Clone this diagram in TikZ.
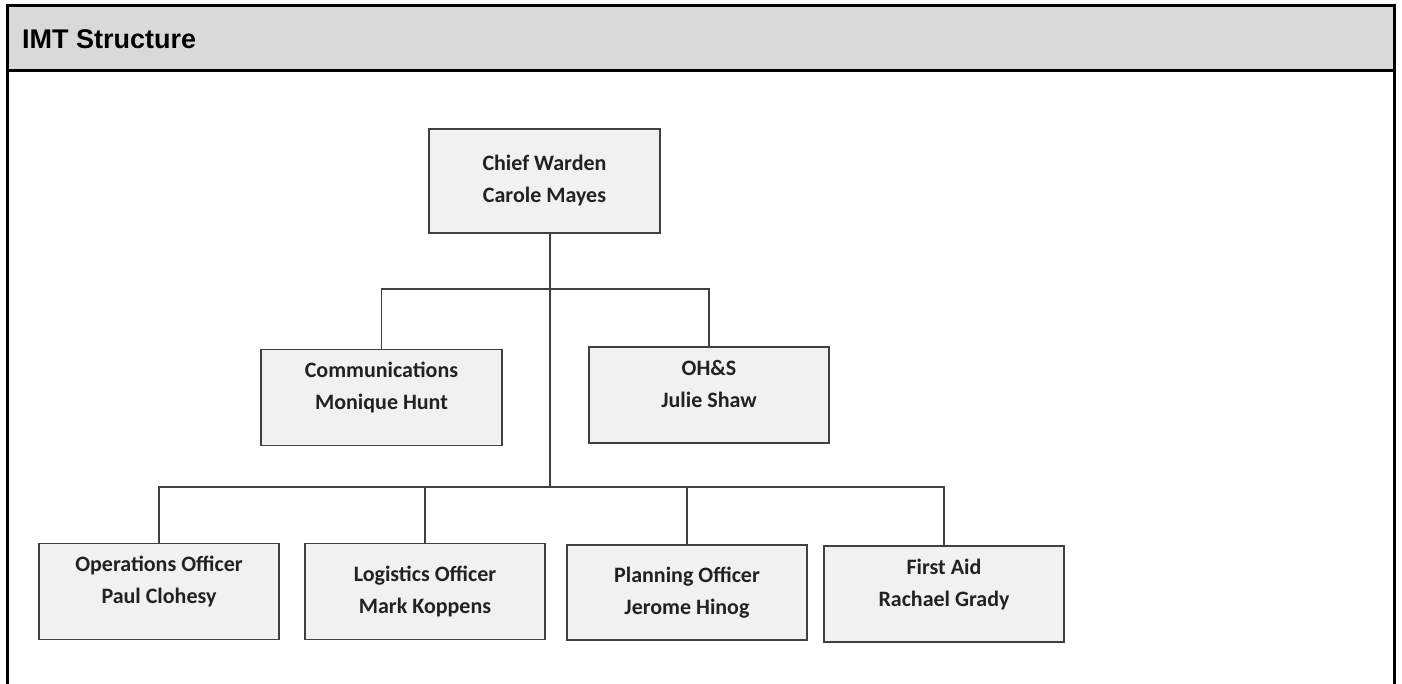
\documentclass[tikz,border=0pt]{standalone}
\usepackage{fontspec}
\setmainfont{Carlito}
\newfontfamily\headfont{Liberation Sans}
\usepackage{tikz}
\definecolor{headgray}{HTML}{D9D9D9}
\definecolor{boxgray}{HTML}{F1F1F1}
\definecolor{linegray}{HTML}{404040}
\definecolor{inkgray}{HTML}{222222}
\newcommand\lifted[1]{\raisebox{10pt}[\height][\depth]{\begin{tabular}{@{}c@{}}#1\end{tabular}}}
\tikzset{
  unit/.style={draw=linegray, line width=1.5pt, fill=boxgray, text=inkgray,
    minimum width=240pt, minimum height=96pt, inner sep=0pt, align=center,
    font=\fontsize{22}{32}\selectfont\bfseries},
  link/.style={draw=linegray, line width=1.5pt},
  frame/.style={draw=black, line width=3pt}
}

\begin{document}
\begin{tikzpicture}[x=1pt, y=1pt]
            \useasboundingbox (0,0) rectangle (1402,-684);

            % header band
            \fill[headgray] (7,-6) rectangle (1394,-71);
            \draw[frame] (7,-684) -- (7,-6) -- (1394,-6) -- (1394,-684);
            \draw[frame] (7,-71) -- (1394,-71);
            \node[anchor=base west, inner sep=0pt, font=\headfont\fontsize{27}{32}\selectfont\bfseries] (title) at (22,-49) {IMT Structure};

            \node[unit, minimum width=231pt, minimum height=104pt] (chief) at (544.5,-181) {Chief Warden\\Carole Mayes};

            \node[unit, minimum width=241pt] (comm) at (381.5,-397.5) {\lifted{Communications\\Monique Hunt}};
            \node[unit] (ohs) at (709,-395) {\lifted{OH\&S\\Julie Shaw}};

            \node[unit] (ops) at (159,-591.5) {\lifted{Operations Officer\\Paul Clohesy}};
            \node[unit] (log) at (425,-591.5) {Logistics Officer\\Mark Koppens};
            \node[unit, minimum height=95pt] (plan) at (687,-592.5) {Planning Officer\\Jerome Hinog};
            \node[unit] (aid) at (944,-594) {\lifted{First Aid\\Rachael Grady}};

            \coordinate (upbus) at (550,-289);
            \coordinate (lowbus) at (550,-487);

            \draw[link] (chief.south -| lowbus) -- (lowbus);
            \draw[link] (comm.north) |- (upbus) -| (ohs.north);
            \draw[link] (ops.north) |- (lowbus) -| (aid.north);
            \draw[link] (log.north) -- (log.north |- lowbus);
            \draw[link] (plan.north) -- (plan.north |- lowbus);

        \end{tikzpicture}
\end{document}
